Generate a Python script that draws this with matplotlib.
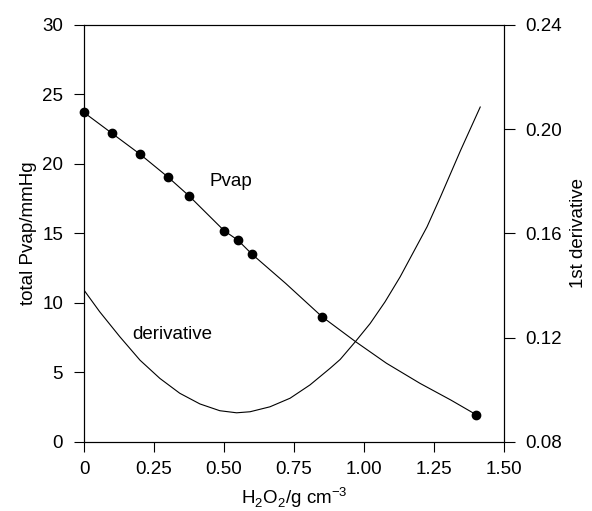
import matplotlib
matplotlib.use('Agg')
import matplotlib.pyplot as plt

plt.rcParams['font.family'] = ['Liberation Sans', 'DejaVu Sans']
plt.rcParams['mathtext.fontset'] = 'custom'
plt.rcParams['mathtext.rm'] = 'Liberation Sans'

# measured points (H2O2 conc, total Pvap)
conc = [0.0, 0.10, 0.20, 0.30, 0.375, 0.50, 0.55, 0.60, 0.85, 1.40]
pvap = [23.7, 22.2, 20.7, 19.05, 17.7, 15.2, 14.5, 13.5, 9.0, 1.9]

# smooth Pvap curve
pvap_curve_x = [0.0, 0.10, 0.20, 0.30, 0.375, 0.50, 0.55, 0.60, 0.72, 0.85,
                0.97, 1.08, 1.20, 1.31, 1.40]
pvap_curve_y = [23.7, 22.2, 20.7, 19.05, 17.7, 15.2, 14.5, 13.5, 11.4, 9.0,
                7.2, 5.65, 4.2, 3.0, 1.95]

# 1st derivative curve (right axis)
deriv_x = [0.0, 0.056, 0.128, 0.20, 0.271, 0.342, 0.414, 0.485, 0.545,
           0.593, 0.664, 0.736, 0.807, 0.879, 0.915, 0.969, 1.022, 1.075,
           1.129, 1.177, 1.225, 1.273, 1.345, 1.415]
deriv_y = [0.1382, 0.1299, 0.1203, 0.1113, 0.1043, 0.0986, 0.0945, 0.0919,
           0.0911, 0.0915, 0.0934, 0.0967, 0.1018, 0.1082, 0.1116, 0.1184,
           0.1254, 0.1337, 0.1433, 0.1529, 0.1625, 0.1740, 0.1919, 0.2085]

x_ticks = [0, 0.25, 0.5, 0.75, 1.0, 1.25, 1.5]
x_labels = ['0', '0.25', '0.50', '0.75', '1.00', '1.25', '1.50']
left_ticks = [0, 5, 10, 15, 20, 25, 30]
right_ticks = [0.08, 0.12, 0.16, 0.20, 0.24]

fig = plt.figure(figsize=(5.92, 5.11), dpi=100)
ax = fig.add_axes([0.1419, 0.1356, 0.7095, 0.8155])
ax2 = ax.twinx()
# left axes drawn on top so the markers sit over the spine
ax.set_zorder(ax2.get_zorder() + 1)
ax.patch.set_visible(False)

ax2.plot(deriv_x, deriv_y, color='black', lw=0.8)
ax.plot(pvap_curve_x, pvap_curve_y, color='black', lw=0.8)
ax.plot(conc, pvap, 'o', color='black', ms=6, clip_on=False, zorder=5)

ax.set_xlim(0, 1.5)
ax.set_ylim(0, 30)
ax2.set_ylim(0.08, 0.24)

ax.set_xticks(x_ticks)
ax.set_xticklabels(x_labels)
ax.set_yticks(left_ticks)
ax2.set_yticks(right_ticks)
ax2.set_yticklabels(['%.2f' % v for v in right_ticks])

ax.tick_params(axis='both', direction='out', length=7, width=0.8,
               labelsize=13.5, pad=7)
ax.tick_params(axis='y', pad=8)
ax2.tick_params(axis='y', direction='out', length=8, width=0.8,
                labelsize=13.5, pad=7)

for a in (ax, ax2):
    for s in a.spines.values():
        s.set_linewidth(0.8)

ax.set_xlabel(r'H$_2$O$_2$/g cm$^{-3}$', fontsize=13.5, labelpad=5)
ax.set_ylabel('total Pvap/mmHg', fontsize=13.5, labelpad=4)
ax2.set_ylabel('1st derivative', fontsize=13.5, labelpad=6)

ax.text(0.447, 18.7, 'Pvap', fontsize=13.5, ha='left', va='center')
ax.text(0.171, 7.75, 'derivative', fontsize=13.5, ha='left', va='center')

fig.savefig('out.png', dpi=100)
